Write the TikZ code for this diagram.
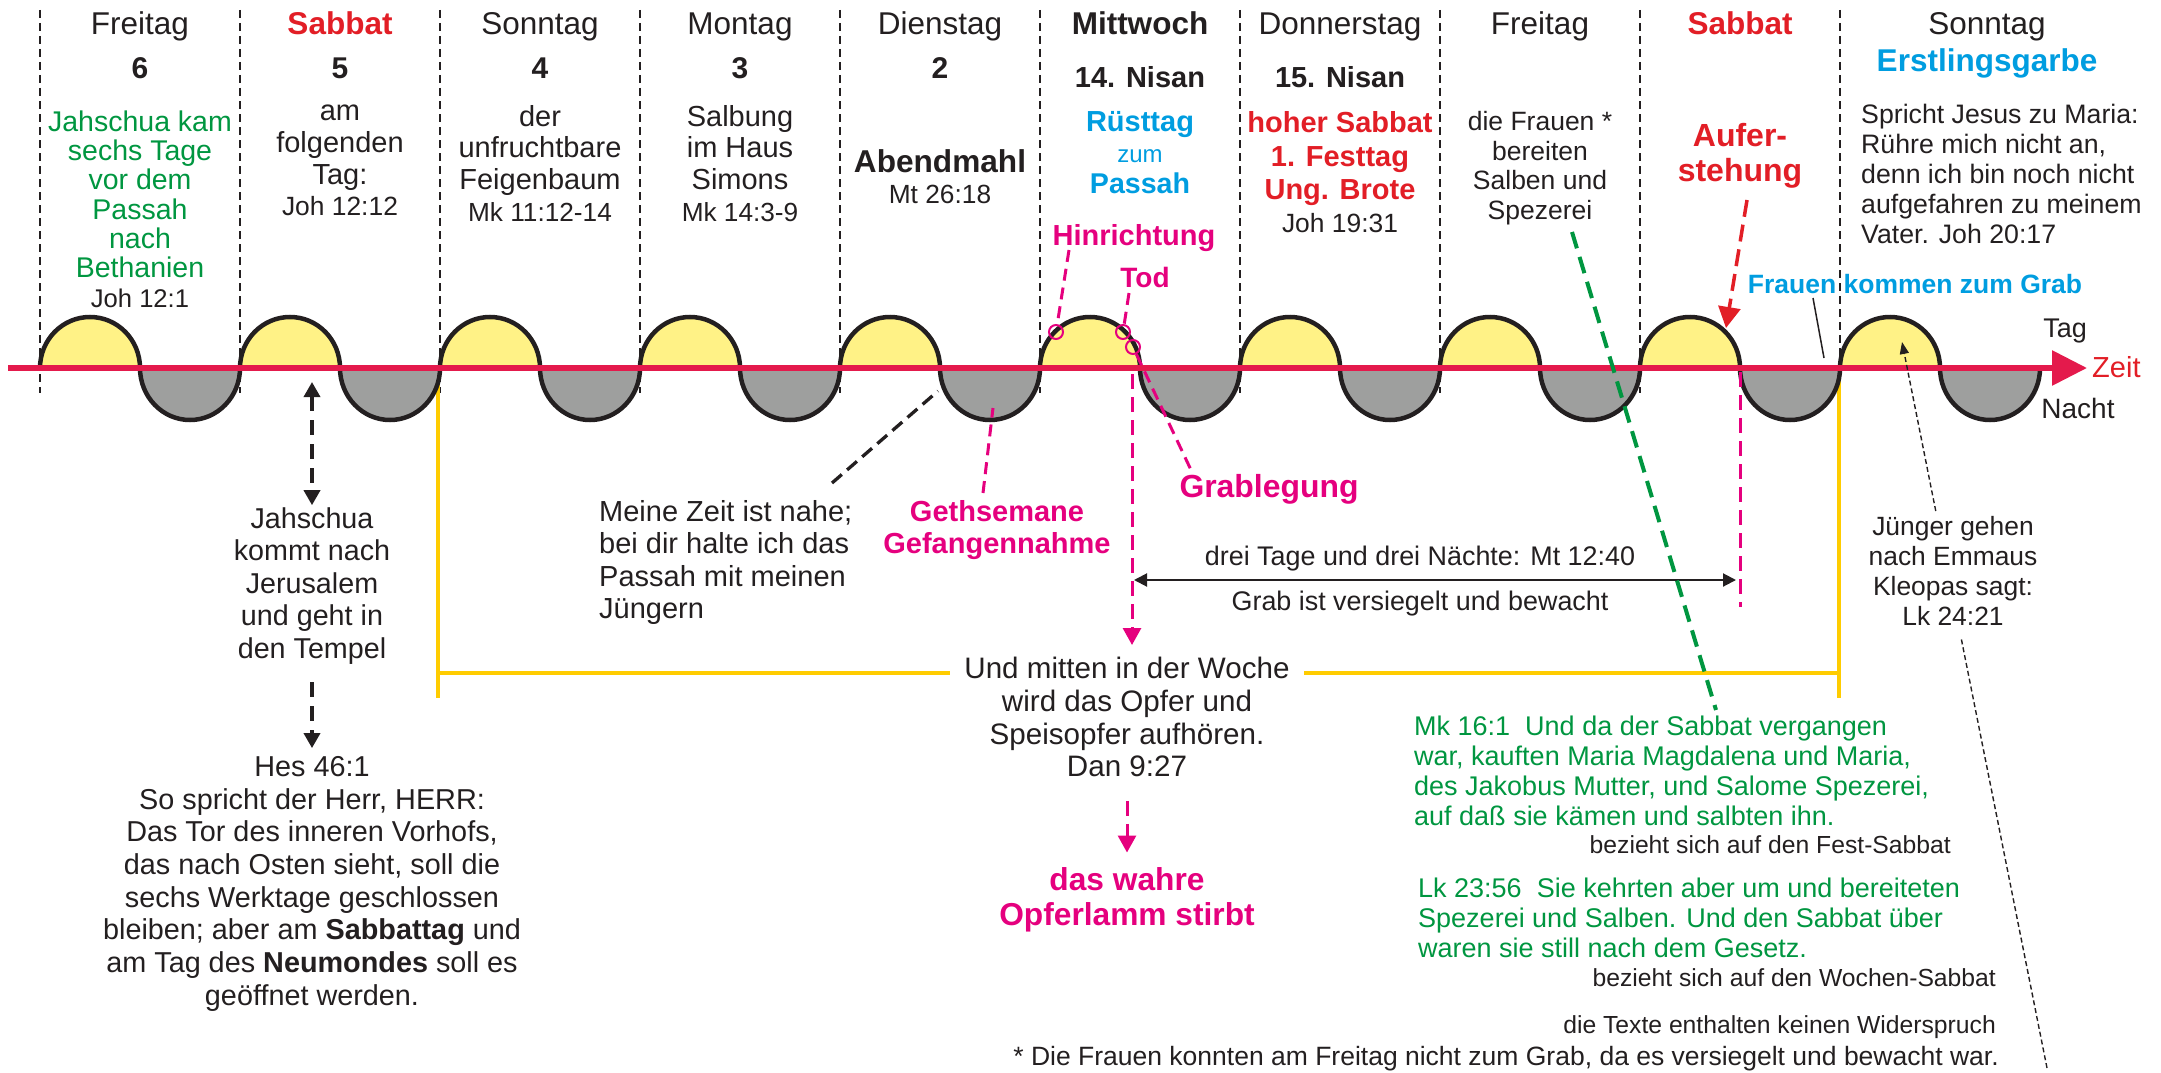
\documentclass[tikz,border=0pt]{standalone}
\usepackage{fontspec}
\setmainfont{Liberation Sans}
\usetikzlibrary{arrows.meta}
\definecolor{ink}{RGB}{35,31,32}
\definecolor{sunfill}{RGB}{255,242,134}
\definecolor{nightfill}{RGB}{158,159,158}
\definecolor{axisred}{RGB}{228,26,76}
\definecolor{hdred}{RGB}{226,30,38}
\definecolor{mag}{RGB}{229,0,126}
\definecolor{skyblue}{RGB}{0,157,224}
\definecolor{leafgreen}{RGB}{0,150,64}
\definecolor{goldline}{RGB}{255,204,0}

\begin{document}
\begin{tikzpicture}[x=1pt,y=-1pt,
  lbl/.style={inner sep=0pt,text=ink,align=center,execute at begin node=\strut},
  fs/.style 2 args={font=\fontsize{#1}{#2}\selectfont},
  bfs/.style 2 args={font=\fontsize{#1}{#2}\selectfont\bfseries},
  sepline/.style={draw=ink,line width=1.4pt,dash pattern=on 8pt off 5pt},
  arch/.style={draw=ink,line width=4.5pt},
  axis/.style={draw=axisred,line width=6pt,-{Triangle[length=35pt,width=34pt]}},
  bracket/.style={draw=goldline,line width=4.5pt},
  mdash/.style={draw=mag,line width=3pt,dash pattern=on 12pt off 7pt},
  ring/.style={circle,draw=mag,line width=2pt,minimum size=14pt,inner sep=0pt},
  tipbig/.style={-{Triangle[length=17pt,width=18pt]}},
  tipmid/.style={{Triangle[length=15pt,width=16pt]}-{Triangle[length=15pt,width=16pt]}},
  ]
  \useasboundingbox (0,0) rectangle (2161,1073);

  % day separators
  \foreach \k in {0,...,9}
    \draw[sepline] (40+200*\k,10) -- (40+200*\k,393);

  % bracket under the week
  \coordinate (bl) at (438,368);
  \coordinate (br) at (1839,368);
  \draw[bracket] (bl) -- (438,698) (438,673) -- (1839,673) (br) -- (1839,698);

  % day and night
  \foreach \k in {0,...,9}{
    \fill[sunfill] (40+200*\k,368) arc[start angle=180,end angle=0,x radius=50pt,y radius=51pt] -- cycle;
    \fill[nightfill] (140+200*\k,368) arc[start angle=180,end angle=360,x radius=50pt,y radius=52pt] -- cycle;
    \draw[arch] (40+200*\k,368) arc[start angle=180,end angle=0,x radius=50pt,y radius=51pt]
      arc[start angle=180,end angle=360,x radius=50pt,y radius=52pt];
  }

  % time axis
  \coordinate (t0) at (8,368);
  \coordinate (t1) at (2087,368);
  \draw[axis] (t0) -- (t1);

  % headings
  \node[lbl,fs={31.5}{36},anchor=base] (day0) at (140,35) {Freitag};
  \node[lbl,bfs={31.5}{36},text=hdred,anchor=base] (day1) at (340,35) {Sabbat};
  \node[lbl,fs={31.5}{36},anchor=base] (day2) at (540,35) {Sonntag};
  \node[lbl,fs={31.5}{36},anchor=base] (day3) at (740,35) {Montag};
  \node[lbl,fs={31.5}{36},anchor=base] (day4) at (940,35) {Dienstag};
  \node[lbl,bfs={31.5}{36},anchor=base] (day5) at (1140,35) {Mittwoch};
  \node[lbl,fs={31.5}{36},anchor=base] (day6) at (1340,35) {Donnerstag};
  \node[lbl,fs={31.5}{36},anchor=base] (day7) at (1540,35) {Freitag};
  \node[lbl,bfs={31.5}{36},text=hdred,anchor=base] (day8) at (1740,35) {Sabbat};
  \node[lbl,fs={31.5}{36},anchor=base] (day9) at (1987,35) {Sonntag};
  \foreach \k/\n in {0/6,1/5,2/4,3/3,4/2}
    \node[lbl,bfs={30}{34},anchor=base] (num\k) at (140+200*\k,78) {\n};
  \node[lbl,bfs={29}{33},anchor=base] (nisan14) at (1140,88) {14. Nisan};
  \node[lbl,bfs={29}{33},anchor=base] (nisan15) at (1340,88) {15. Nisan};
  \node[lbl,bfs={31.5}{36},text=skyblue,anchor=base] (garbe) at (1987,72) {Erstlingsgarbe};

  % day texts
  \node[lbl,fs={28.5}{29.3},text=leafgreen,anchor=north] (bethanien) at (140,110.5)
    {Jahschua kam\\sechs Tage\\vor dem\\Passah\\nach\\Bethanien\\{\color{ink}\fontsize{25.6}{29.3}\selectfont Joh 12:1}};
  \node[lbl,fs={29}{31.7},anchor=north] (folgtag) at (340,104.8)
    {am\\folgenden\\Tag:\\{\fontsize{26.4}{31.7}\selectfont Joh 12:12}};
  \node[lbl,fs={29}{31.7},anchor=north] (feige) at (540,104.8)
    {der\\unfruchtbare\\Feigenbaum\\{\fontsize{26.2}{31.7}\selectfont Mk 11:12-14}};
  \node[lbl,fs={29}{31.7},anchor=north] (salbung) at (740,104.8)
    {Salbung\\im Haus\\Simons\\{\fontsize{26.2}{31.7}\selectfont Mk 14:3-9}};
  \node[lbl,bfs={31.6}{31},anchor=north] (mahl) at (940,149.3)
    {Abendmahl\\{\mdseries\fontsize{26.3}{31}\selectfont Mt 26:18}};
  \node[lbl,bfs={29}{31},text=skyblue,anchor=north] (ruest) at (1140,111.3)
    {Rüsttag\\{\mdseries\fontsize{24}{31}\selectfont zum}\\{\fontsize{28.6}{31}\selectfont Passah}};
  \node[lbl,bfs={29}{33.3},text=hdred,anchor=north] (hoch) at (1340,111.7)
    {hoher Sabbat\\1. Festtag\\Ung. Brote\\{\mdseries\color{ink}\fontsize{26.4}{33.3}\selectfont Joh 19:31}};
  \node[lbl,fs={26.5}{29.5},anchor=north] (salben) at (1540,111.4)
    {die Frauen *\\bereiten\\Salben und\\Spezerei};
  \node[lbl,bfs={32}{35},text=hdred,anchor=north] (auf) at (1740,123.5) {Aufer-\\stehung};
  \node[lbl,fs={26.7}{30},align=left,anchor=north west] (maria) at (1861,104)
    {Spricht Jesus zu Maria:\\Rühre mich nicht an,\\denn ich bin noch nicht\\aufgefahren zu meinem\\Vater. Joh 20:17};

  % passion
  \node[lbl,bfs={29}{33},text=mag,anchor=base] (hin) at (1134,245) {Hinrichtung};
  \node[lbl,bfs={28}{33},text=mag,anchor=base] (tod) at (1145,287) {Tod};
  \node[ring] (c1) at (1056,332) {};
  \node[ring] (c2) at (1123,332) {};
  \node[ring] (c3) at (1133,347) {};
  \node[lbl,bfs={31.9}{36},text=mag,anchor=base] (grab) at (1269,497) {Grablegung};
  \node[lbl,bfs={29}{32},text=mag,anchor=north] (geth) at (997,500.6) {Gethsemane\\Gefangennahme};
  \node[lbl,fs={29}{32.3},align=left,anchor=north west] (zeit) at (599,500.4)
    {Meine Zeit ist nahe;\\bei dir halte ich das\\Passah mit meinen\\Jüngern};
  \node[lbl,fs={26.9}{30},anchor=base] (dreitage) at (1420,565) {drei Tage und drei Nächte: Mt 12:40};
  \node[lbl,fs={26.9}{30},anchor=base] (versiegelt) at (1420,610) {Grab ist versiegelt und bewacht};
  \node[lbl,bfs={26.5}{30},text=skyblue,anchor=base] (fraugrab) at (1915,293) {Frauen kommen zum Grab};

  % axis labels
  \node[lbl,fs={27}{30},anchor=base] (tag) at (2065,337) {Tag};
  \node[lbl,fs={29}{30},text=hdred,anchor=base west] (zeitlbl) at (2092,377) {Zeit};
  \node[lbl,fs={28}{30},anchor=base] (nacht) at (2078,418) {Nacht};

  % lower texts
  \node[lbl,fs={28.7}{32.5},anchor=north] (jah) at (312,507.2)
    {Jahschua\\kommt nach\\Jerusalem\\und geht in\\den Tempel};
  \node[lbl,fs={28.8}{32.7},anchor=north] (hes) at (312,756.1)
    {Hes 46:1\\So spricht der Herr, HERR:\\Das Tor des inneren Vorhofs,\\das nach Osten sieht, soll die\\sechs Werktage geschlossen\\bleiben; aber am \textbf{Sabbattag} und\\am Tag des \textbf{Neumondes} soll es\\geöffnet werden.};
  \node[lbl,bfs={31.7}{35},text=mag,anchor=north] (opfer) at (1127,867.5)
    {das wahre\\Opferlamm stirbt};
  \node[lbl,fs={27}{30},text=leafgreen,align=left,anchor=north west] (mk) at (1414,716)
    {Mk 16:1\ \ Und da der Sabbat vergangen\\war, kauften Maria Magdalena und Maria,\\des Jakobus Mutter, und Salome Spezerei,\\auf daß sie kämen und salbten ihn.};
  \node[lbl,fs={24.7}{28},anchor=base east] (festsab) at (1951,853) {bezieht sich auf den Fest-Sabbat};
  \node[lbl,fs={27}{30},text=leafgreen,align=left,anchor=north west] (lk) at (1418,878)
    {Lk 23:56\ \ Sie kehrten aber um und bereiteten\\Spezerei und Salben. Und den Sabbat über\\waren sie still nach dem Gesetz.};
  \node[lbl,fs={24.7}{28},anchor=base east] (wochsab) at (1996,986) {bezieht sich auf den Wochen-Sabbat};
  \node[lbl,fs={24.7}{28},anchor=base east] (texte) at (1996,1033) {die Texte enthalten keinen Widerspruch};
  \node[lbl,fs={26.5}{28},anchor=base east] (stern) at (1999,1065)
    {* Die Frauen konnten am Freitag nicht zum Grab, da es versiegelt und bewacht war.};

  % connectors
  \coordinate (h0) at (1069,250);
  \coordinate (tod0) at (1129,293);
  \coordinate (gl0) at (1191,470);
  \coordinate (gs0) at (983,493);
  \coordinate (gs1) at (993,408);
  \coordinate (mz0) at (832,483);
  \coordinate (mz1) at (938,391);
  \coordinate (mw0) at (1132,374);
  \coordinate (mw1) at (1132,645);
  \coordinate (dt0) at (1134,580);
  \coordinate (dt1) at (1736,580);
  \coordinate (sb0) at (1740,372);
  \coordinate (sb1) at (1740,607);
  \coordinate (af0) at (1747,200);
  \coordinate (af1) at (1726,328);
  \coordinate (gr0) at (1572,232);
  \coordinate (gr1) at (1716,710);
  \coordinate (fg0) at (1813,298);
  \coordinate (fg1) at (1824,358);
  \coordinate (em0) at (2047,1068);
  \coordinate (em1) at (1902,342);
  \coordinate (ja0) at (312,382);

  \draw[mdash] (h0) -- (c1);
  \draw[mdash] (tod0) -- (c2);
  \draw[mdash] (c3) -- (gl0);
  \draw[mdash] (gs0) -- (gs1);
  \draw[ink,line width=3.3pt,dash pattern=on 13pt off 7pt] (mz0) -- (mz1);
  \draw[mag,line width=3pt,dash pattern=on 15pt off 8pt,tipbig] (mw0) -- (mw1);
  \draw[mag,line width=3pt,dash pattern=on 15pt off 8pt] (sb0) -- (sb1);
  \draw[ink,line width=2pt,{Triangle[length=13pt,width=13pt]}-{Triangle[length=13pt,width=13pt]}] (dt0) -- (dt1);
  \draw[hdred,line width=3.5pt,dash pattern=on 17pt off 8pt,-{Triangle[length=21pt,width=22pt]}] (af0) -- (af1);
  \draw[leafgreen,line width=4pt,dash pattern=on 17pt off 9pt] (gr0) -- (gr1);
  \draw[ink,line width=1.5pt] (fg0) -- (fg1);
  \draw[ink,line width=1.4pt,dash pattern=on 5pt off 3pt,-{Triangle[length=12pt,width=9pt]}] (em0) -- (em1);
  \draw[ink,line width=3.5pt,dash pattern=on 15pt off 9pt,tipmid,shorten >=2pt] (ja0) -- (jah.north);
  \draw[ink,line width=3.5pt,dash pattern=on 15pt off 9pt,-{Triangle[length=15pt,width=16pt]},
    shorten <=14pt,shorten >=8pt] (jah.south) -- (hes.north);

  % texts that cover lines
  \node[lbl,fs={29.6}{32.7},fill=white,inner xsep=14pt,anchor=north] (mitte) at (1127,657.1)
    {Und mitten in der Woche\\wird das Opfer und\\Speisopfer aufhören.\\Dan 9:27};
  \draw[mag,line width=3pt,dash pattern=on 15pt off 8pt,tipbig,shorten <=14pt,shorten >=15pt]
    (mitte.south) -- (opfer.north);
  \node[lbl,fs={26.4}{30},fill=white,inner sep=4pt,anchor=north] (emmaus) at (1953,512)
    {Jünger gehen\\nach Emmaus\\Kleopas sagt:\\Lk 24:21};
\end{tikzpicture}
\end{document}
